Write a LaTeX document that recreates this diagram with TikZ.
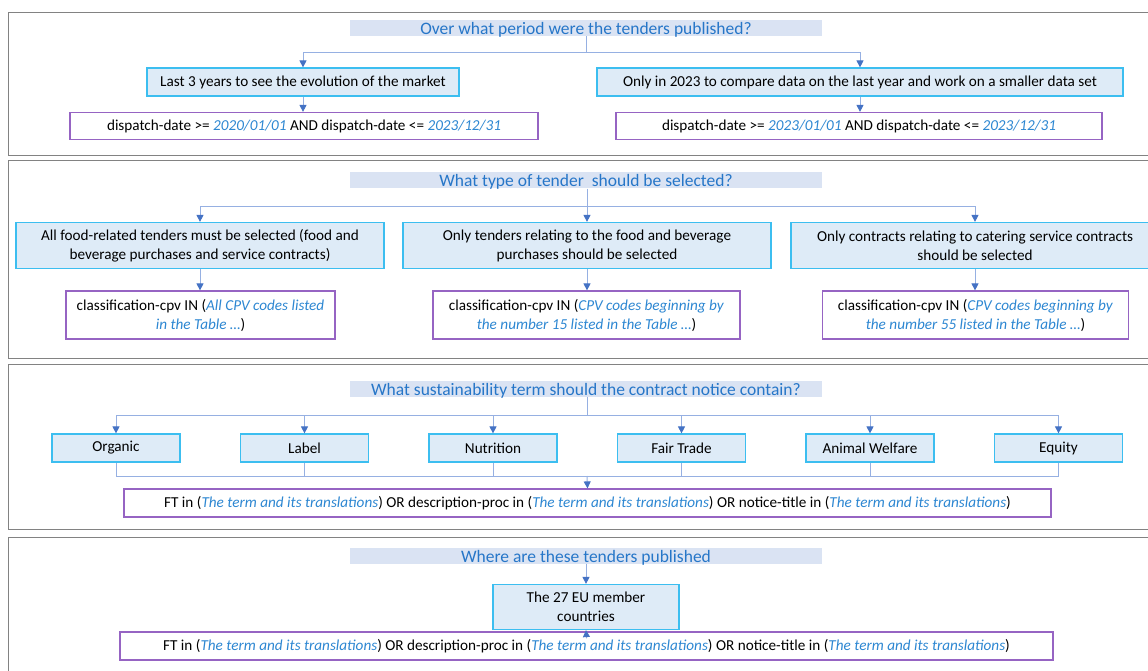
\documentclass[tikz,border=0pt]{standalone}
\usepackage{fontspec}
\setmainfont{Carlito}
\usetikzlibrary{arrows.meta}

\definecolor{qblue}{RGB}{38,118,200}
\definecolor{barfill}{RGB}{218,227,243}
\definecolor{choicefill}{RGB}{222,235,247}
\definecolor{choiceline}{RGB}{60,190,240}
\definecolor{queryline}{RGB}{150,100,195}
\definecolor{linkblue}{RGB}{150,176,226}
\definecolor{tipblue}{RGB}{68,114,196}
\definecolor{qitalic}{RGB}{45,135,210}
\definecolor{panelgray}{RGB}{130,130,130}

\newcommand{\qv}[1]{\textcolor{qitalic}{\textit{#1}}}

\begin{document}
\begin{tikzpicture}[x=1pt,y=-1pt,
  question/.style={fill=barfill,text=qblue,inner sep=0pt,minimum width=472pt,minimum height=16pt,text height=14.5pt,text depth=1.5pt,font=\fontsize{17.5}{19}\selectfont},
  choice/.style={draw=choiceline,fill=choicefill,line width=1.2pt,inner sep=0pt,align=center,font=\fontsize{15.2}{19}\selectfont},
  query/.style={draw=queryline,fill=white,line width=1.2pt,inner sep=0pt,align=center,font=\fontsize{15.2}{19}\selectfont},
  link/.style={draw=linkblue,line width=0.9pt},
  arr/.style={link,-{Triangle[length=7pt,width=7pt,color=tipblue]}},
  panel/.style={draw=panelgray,line width=0.9pt}]
\useasboundingbox (0,0) rectangle (1148,671);

% period
\draw[panel] (8,12) rectangle (1160,155);
\node[question] (t1) at (586,28) {Over what period were the tenders published?};
\node[choice,minimum width=312pt,minimum height=28pt] (a1) at (303,82) {Last 3 years to see the evolution of the market};
\node[choice,minimum width=526pt,minimum height=28pt] (a2) at (860,82) {Only in 2023 to compare data on the last year and work on a smaller data set};
\node[query,minimum width=468pt,minimum height=27pt] (f1) at (304,126) {dispatch-date >= \qv{2020/01/01} AND dispatch-date <= \qv{2023/12/31}};
\node[query,minimum width=486pt,minimum height=27pt] (f2) at (859,126) {dispatch-date >= \qv{2023/01/01} AND dispatch-date <= \qv{2023/12/31}};
\coordinate (j1) at (586,52);
\draw[link] (t1.south) -- (j1);
\draw[arr] (j1) -| (a1.north);
\draw[arr] (j1) -| (a2.north);
\draw[arr] (a1.south) -- (a1.south |- f1.north);
\draw[arr] (a2.south) -- (a2.south |- f2.north);

% type of tender
\draw[panel] (8,160) rectangle (1160,358);
\node[question,minimum height=15pt] (t2) at (586,180.5) {What type of tender\ \ should be selected?};
\node[choice,minimum width=368pt,minimum height=46pt] (b1) at (200,245.5) {All food-related tenders must be selected (food and\\beverage purchases and service contracts)};
\node[choice,minimum width=368pt,minimum height=46pt] (b2) at (587,245.5) {Only tenders relating to the food and beverage\\purchases should be selected};
\node[choice,minimum width=368pt,minimum height=46pt] (b3) at (975,245.5) {Only contracts relating to catering service contracts\\should be selected};
\node[query,minimum width=269pt,minimum height=48pt] (c1) at (200.5,315) {classification-cpv IN (\qv{All CPV codes listed}\\\qv{in the Table …})};
\node[query,minimum width=307pt,minimum height=48pt] (c2) at (586.5,315) {classification-cpv IN (\qv{CPV codes beginning by}\\\qv{the number 15 listed in the Table …})};
\node[query,minimum width=306pt,minimum height=48pt] (c3) at (975.5,315) {classification-cpv IN (\qv{CPV codes beginning by}\\\qv{the number 55 listed in the Table …})};
\coordinate (j2) at (587,206);
\draw[link] (t2.south -| j2) -- (j2);
\draw[arr] (j2) -| (b1.north);
\draw[arr] (j2) -- (b2.north);
\draw[arr] (j2) -| (b3.north);
\draw[arr] (b1.south) -- (b1.south |- c1.north);
\draw[arr] (b2.south) -- (b2.south |- c2.north);
\draw[arr] (b3.south) -- (b3.south |- c3.north);

% sustainability term
\draw[panel] (8,364) rectangle (1160,529);
\node[question,minimum height=15pt] (t3) at (586,389) {What sustainability term should the contract notice contain?};
\foreach \name/\txt [count=\i from 0] in {s1/Organic,s2/Label,s3/Nutrition,s4/Fair Trade,s5/Animal Welfare,s6/Equity}
  \node[choice,minimum width=128pt,minimum height=28pt] (\name) at ({116+188.5*\i},448) {\txt};
\node[query,minimum width=927pt,minimum height=28pt] (g3) at (587.5,503) {FT in (\qv{The term and its translations}) OR description-proc in (\qv{The term and its translations}) OR notice-title in (\qv{The term and its translations})};
\coordinate (j3) at (587,415);
\coordinate (k3) at (587,476);
\draw[link] (t3.south -| j3) -- (j3);
\foreach \name in {s1,s2,s3,s4,s5,s6} {
  \draw[arr] (j3) -| (\name.north);
  \draw[link] (\name.south) -- (\name.south |- k3);
}
\draw[link] (s1.south |- k3) -- (s6.south |- k3);
\draw[arr] (k3) -- (g3.north);

% where published
\draw[panel] (8,537) rectangle (1160,690);
\node[question,minimum height=15pt] (t4) at (586,555.5) {Where are these tenders published};
\node[choice,minimum width=186pt,minimum height=45pt] (d) at (586,607) {The 27 EU member\\countries};
\node[query,minimum width=933pt,minimum height=28pt] (h4) at (586.5,646) {FT in (\qv{The term and its translations}) OR description-proc in (\qv{The term and its translations}) OR notice-title in (\qv{The term and its translations})};
\draw[arr] (t4.south) -- (d.north);
\draw[arr] ([yshift=-7pt]h4.north) -- (d.south);
\end{tikzpicture}
\end{document}
